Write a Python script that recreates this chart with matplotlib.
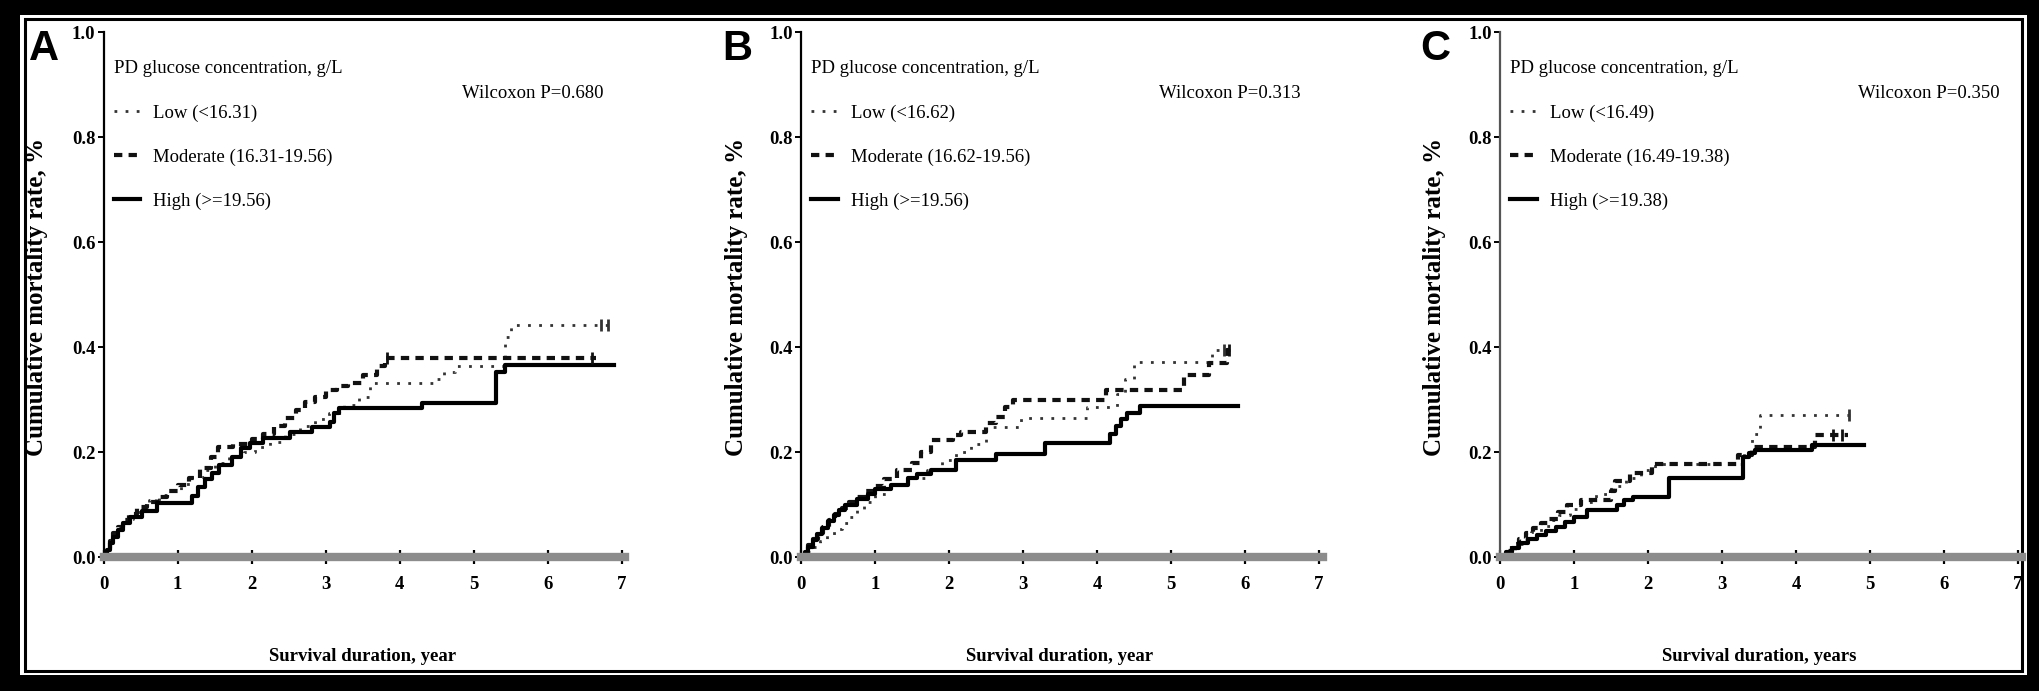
import numpy as np
import matplotlib
matplotlib.use("Agg")
import matplotlib.pyplot as plt
from matplotlib.lines import Line2D
from matplotlib.patches import Rectangle

# ---- data (years, cumulative mortality) ----
a_high_t = [0, 0.04, 0.08, 0.13, 0.19, 0.26, 0.35, 0.52, 0.72, 1.19, 1.28, 1.37, 1.47, 1.56,
            1.74, 1.86, 1.98, 2.16, 2.52, 2.82, 3.06, 3.12, 3.18, 4.30, 5.30, 5.42, 6.90]
a_high_v = [0, 0.013, 0.026, 0.039, 0.052, 0.065, 0.077, 0.088, 0.102, 0.117, 0.134, 0.148, 0.160,
            0.175, 0.191, 0.207, 0.217, 0.226, 0.239, 0.248, 0.258, 0.274, 0.283, 0.293, 0.353, 0.366, 0.366]
a_mod_t = [0, 0.04, 0.08, 0.13, 0.19, 0.26, 0.34, 0.45, 0.58, 0.72, 0.86, 1.0, 1.15, 1.3, 1.45, 1.55,
           1.75, 2.0, 2.15, 2.3, 2.45, 2.6, 2.72, 2.85, 3.0, 3.15, 3.3, 3.5, 3.7, 3.8, 6.65]
a_mod_v = [0, 0.015, 0.03, 0.045, 0.058, 0.07, 0.082, 0.095, 0.105, 0.115, 0.125, 0.138, 0.15, 0.17,
           0.19, 0.21, 0.215, 0.225, 0.235, 0.25, 0.265, 0.28, 0.295, 0.305, 0.318, 0.325, 0.331, 0.347,
           0.363, 0.38, 0.38]
a_low_t = [0, 0.05, 0.1, 0.16, 0.23, 0.3, 0.4, 0.5, 0.62, 0.75, 0.9, 1.05, 1.2, 1.35, 1.5, 1.7, 1.9,
           2.05, 2.25, 2.45, 2.65, 2.85, 3.05, 3.25, 3.45, 3.6, 4.45, 4.6, 4.75, 5.42, 5.5, 6.9]
a_low_v = [0, 0.015, 0.03, 0.045, 0.06, 0.072, 0.085, 0.097, 0.108, 0.118, 0.128, 0.14, 0.152, 0.165,
           0.18, 0.19, 0.2, 0.21, 0.22, 0.235, 0.25, 0.262, 0.275, 0.29, 0.305, 0.331, 0.34, 0.352,
           0.363, 0.42, 0.442, 0.442]

b_high_t = [0, 0.05, 0.1, 0.16, 0.22, 0.29, 0.36, 0.44, 0.52, 0.6, 0.75, 0.9, 1.0, 1.22, 1.45, 1.57,
            1.75, 2.1, 2.63, 3.3, 4.18, 4.25, 4.32, 4.4, 4.58, 5.9]
b_high_v = [0, 0.01, 0.02, 0.032, 0.044, 0.056, 0.068, 0.08, 0.09, 0.1, 0.11, 0.12, 0.13, 0.137,
            0.15, 0.159, 0.166, 0.185, 0.197, 0.217, 0.235, 0.25, 0.262, 0.274, 0.288, 0.288]
b_mod_t = [0, 0.05, 0.1, 0.16, 0.23, 0.3, 0.38, 0.46, 0.55, 0.65, 0.75, 0.88, 1.0, 1.12, 1.3, 1.5,
           1.62, 1.75, 2.05, 2.16, 2.5, 2.63, 2.75, 2.86, 4.12, 5.17, 5.52, 5.76, 5.85]
b_mod_v = [0, 0.01, 0.022, 0.034, 0.046, 0.058, 0.07, 0.082, 0.094, 0.105, 0.115, 0.125, 0.135,
           0.148, 0.166, 0.18, 0.2, 0.223, 0.232, 0.239, 0.255, 0.267, 0.286, 0.299, 0.318, 0.347,
           0.369, 0.394, 0.394]
b_low_t = [0, 0.08, 0.16, 0.25, 0.35, 0.45, 0.55, 0.65, 0.75, 0.85, 1.0, 1.15, 1.3, 1.5, 1.7, 1.9,
           2.1, 2.3, 2.5, 2.97, 3.86, 4.27, 4.38, 4.5, 5.56, 5.8]
b_low_v = [0, 0.01, 0.02, 0.03, 0.042, 0.054, 0.065, 0.077, 0.09, 0.105, 0.12, 0.13, 0.14, 0.15,
           0.165, 0.185, 0.2, 0.215, 0.248, 0.264, 0.286, 0.31, 0.34, 0.372, 0.394, 0.394]

c_high_t = [0, 0.08, 0.16, 0.25, 0.38, 0.5, 0.62, 0.75, 0.88, 1.0, 1.17, 1.58, 1.68, 1.8, 2.28,
            3.28, 3.36, 3.44, 4.22, 4.92]
c_high_v = [0, 0.01, 0.018, 0.026, 0.034, 0.042, 0.05, 0.058, 0.066, 0.077, 0.09, 0.1, 0.108,
            0.115, 0.15, 0.19, 0.198, 0.204, 0.213, 0.213]
c_mod_t = [0, 0.08, 0.16, 0.25, 0.35, 0.45, 0.55, 0.65, 0.78, 0.9, 1.1, 1.5, 1.56, 1.75, 2.05,
           3.22, 3.4, 4.25, 4.7]
c_mod_v = [0, 0.012, 0.024, 0.035, 0.045, 0.055, 0.064, 0.072, 0.085, 0.1, 0.109, 0.125, 0.145,
           0.16, 0.178, 0.195, 0.21, 0.232, 0.232]
c_low_t = [0, 0.1, 0.2, 0.3, 0.42, 0.55, 0.68, 0.8, 0.95, 1.1, 1.3, 1.5, 1.7, 1.9, 2.1, 3.3, 3.4,
           3.52, 4.82]
c_low_v = [0, 0.012, 0.024, 0.036, 0.048, 0.06, 0.07, 0.08, 0.092, 0.105, 0.12, 0.135, 0.15,
           0.165, 0.178, 0.2, 0.235, 0.27, 0.27]

# censoring marks (times)
a_cens = {"low": [6.72, 6.82], "mod": [3.83, 6.6]}
b_cens = {"low": [5.72], "mod": [5.78]}
c_cens = {"low": [4.72], "mod": [4.5, 4.62]}

panels = ["A", "B", "C"]
low_labels = ["Low (<16.31)", "Low (<16.62)", "Low (<16.49)"]
mod_labels = ["Moderate (16.31-19.56)", "Moderate (16.62-19.56)", "Moderate (16.49-19.38)"]
high_labels = ["High (>=19.56)", "High (>=19.56)", "High (>=19.38)"]
p_texts = ["Wilcoxon P=0.680", "Wilcoxon P=0.313", "Wilcoxon P=0.350"]
x_titles = ["Survival duration, year", "Survival duration, year", "Survival duration, years"]
legend_title = "PD glucose concentration, g/L"
y_title = "Cumulative mortality rate, %"
x_ticks = [0, 1, 2, 3, 4, 5, 6, 7]
y_ticks = [0.0, 0.2, 0.4, 0.6, 0.8, 1.0]

curves = [
    (a_low_t, a_low_v, a_mod_t, a_mod_v, a_high_t, a_high_v, a_cens),
    (b_low_t, b_low_v, b_mod_t, b_mod_v, b_high_t, b_high_v, b_cens),
    (c_low_t, c_low_v, c_mod_t, c_mod_v, c_high_t, c_high_v, c_cens),
]

SERIF = "Liberation Serif"
W, H = 2039, 691

fig = plt.figure(figsize=(W / 100, H / 100), dpi=100, facecolor="black")

# frame: white page, thin inner line
fig.add_artist(Rectangle((20 / W, 1 - 675 / H), 2007 / W, 660 / H, transform=fig.transFigure,
                         facecolor="white", edgecolor="none", zorder=-3))
fig.add_artist(Rectangle((24.5 / W, 1 - 671 / H), 1998 / W, 652 / H, transform=fig.transFigure,
                         facecolor="none", edgecolor="black", lw=2.2, zorder=-2))

lefts = [103.6, 801, 1500]
letter_x = [43.5, 737, 1435]
ylab_x = [37, 736, 1435]
px_year = 74.0
x_axis_px, top_px = 557, 32

styles = {
    "low": dict(color="#333333", lw=2.0, linestyle=(0, (1, 3))),
    "mod": dict(color="#111111", lw=3.0, linestyle=(0, (2, 1.5))),
    "high": dict(color="black", lw=3.0, linestyle="-"),
}


def step_value(t, v, at):
    idx = np.searchsorted(t, at, side="right") - 1
    return np.asarray(v)[idx]


for i, (lt, lv, mt, mv, ht, hv, cens) in enumerate(curves):
    ax = fig.add_axes([lefts[i] / W, 1 - x_axis_px / H, 7.05 * px_year / W,
                       (x_axis_px - top_px) / H])
    ax.set_facecolor("none")
    ax.set_xlim(0, 7.05)
    ax.set_ylim(0, 1.0)

    ax.step(lt, lv, where="post", clip_on=False, **styles["low"])
    ax.step(mt, mv, where="post", clip_on=False, **styles["mod"])
    ax.step(ht, hv, where="post", clip_on=False, **styles["high"])

    ct = np.array(cens["low"])
    ax.plot(ct, step_value(lt, lv, ct), ls="none", marker="|", ms=9, mew=2, color="#333333")
    ct = np.array(cens["mod"])
    ax.plot(ct, step_value(mt, mv, ct), ls="none", marker="|", ms=9, mew=2, color="#111111")

    for s in ["top", "right"]:
        ax.spines[s].set_visible(False)
    ax.spines["bottom"].set_color("#8c8c8c")
    ax.spines["bottom"].set_linewidth(6)
    ax.spines["left"].set_color("#555555" if i == 2 else "black")
    ax.spines["left"].set_linewidth(1.6)

    ax.set_xticks(x_ticks)
    ax.set_xticklabels([str(t) for t in x_ticks])
    ax.set_yticks(y_ticks)
    ax.set_yticklabels(["%.1f" % t for t in y_ticks])
    ax.tick_params(axis="x", direction="inout", length=10, width=1.6, color="black", pad=9)
    ax.tick_params(axis="y", direction="out", length=4, width=1.4, color="black", pad=2)
    for lab in ax.get_xticklabels() + ax.get_yticklabels():
        lab.set_fontfamily(SERIF)
        lab.set_fontsize(13.5)
        lab.set_fontweight("bold")

    handles = [Line2D([], [], **styles["low"]), Line2D([], [], **styles["mod"]),
               Line2D([], [], **styles["high"])]
    leg = ax.legend(handles, [low_labels[i], mod_labels[i], high_labels[i]],
                    title=legend_title, loc="upper left", bbox_to_anchor=(0.02, 0.947),
                    frameon=False, alignment="left", handlelength=1.4, handletextpad=0.7,
                    labelspacing=1.42, borderaxespad=0, borderpad=0,
                    prop={"family": SERIF, "size": 13.5},
                    title_fontproperties={"family": SERIF, "size": 13.5})
    leg._legend_box.sep = 20

    ax.text(6.75, 0.882, p_texts[i], ha="right", va="center", fontsize=13.5, family=SERIF)
    ax.text(3.5, -0.19, x_titles[i], transform=ax.get_xaxis_transform(), ha="center",
            va="center", fontsize=13.5, fontweight="bold", family=SERIF)

    fig.text(letter_x[i] / W, 1 - 48.5 / H, panels[i], ha="center", va="center",
             fontsize=30, fontweight="bold", family="Liberation Sans")
    fig.text(ylab_x[i] / W, 1 - 297 / H, y_title, rotation=90, ha="center", va="center",
             fontsize=18, fontweight="bold", family=SERIF)

fig.savefig("out.png", dpi=100, facecolor="black")
